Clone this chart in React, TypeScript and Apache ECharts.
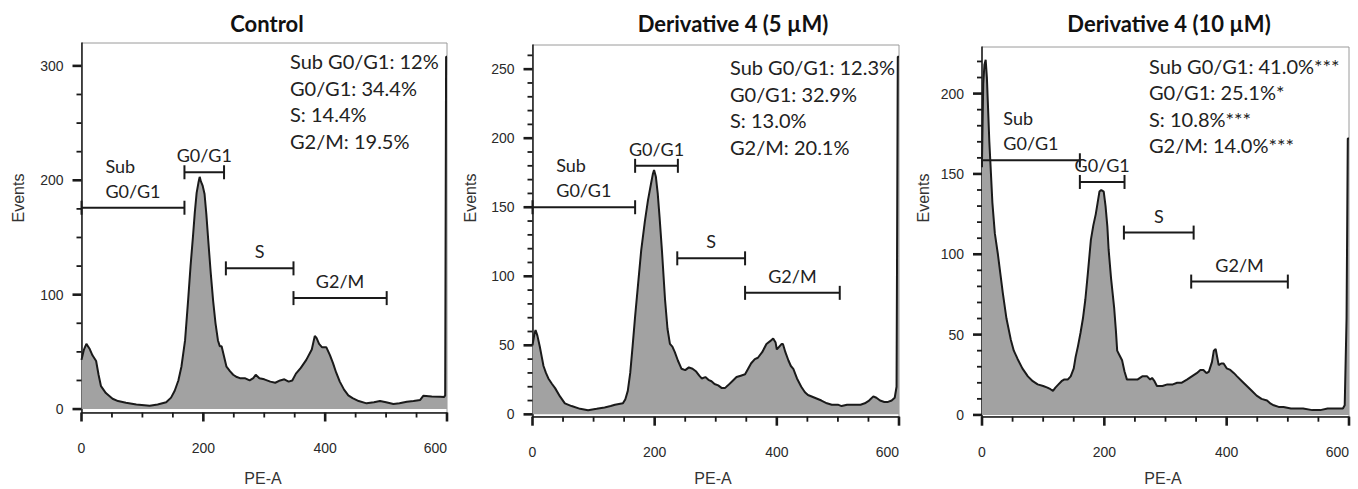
import React, { useEffect, useRef } from "react";
import * as echarts from "echarts";

// ---------------- Data ----------------
const controlX = [0, 4, 8, 13, 18, 24, 28, 32, 40, 51, 60, 73, 90, 112, 125, 139, 147, 153, 159, 164, 170, 175, 179, 183, 186, 189, 192, 194, 196, 199, 202, 205, 208, 212, 216, 220, 224, 227, 230, 234, 238, 244, 249, 255, 260, 268, 276, 282, 286, 292, 300, 310, 318, 326, 333, 340, 346, 352, 360, 369, 378, 383, 386, 390, 395, 402, 408, 413, 418, 424, 431, 438, 445, 455, 468, 480, 490, 500, 512, 522, 534, 545, 556, 561, 575, 589, 595, 597, 598.5, 600];
const controlY = [43, 52, 57, 53, 47, 42, 30, 20, 14, 9, 7, 5.5, 4, 3, 4, 6, 10, 16, 25, 37, 60, 95, 125, 151, 172, 189, 198, 203, 199, 195, 188, 170, 148, 120, 95, 75, 60, 55, 55, 46, 37, 33, 30, 28, 27, 27, 25, 27, 30, 27, 26, 24, 23, 25, 26, 24, 25, 31, 36, 43, 52, 64, 62, 57, 54, 54, 47, 40, 32, 24, 17, 12, 9.6, 7, 5, 6, 7, 6, 4.5, 5, 6.4, 7, 8, 11.6, 11, 10.8, 10.5, 12, 308, 308];

const d5X = [0, 3, 5, 8, 12, 15, 18, 22, 26, 32, 37, 45, 53, 64, 78, 91, 105, 118, 128, 135, 148, 152, 156, 160, 164, 168, 173, 178, 184, 189, 194, 197, 199, 202, 205, 208, 212, 217, 221, 225, 229, 233, 238, 244, 250, 256, 262, 268, 273, 277, 283, 288, 293, 298, 304, 310, 315, 320, 327, 334, 341, 348, 353, 358, 364, 369, 376, 383, 389, 394, 398, 400, 404, 408, 410, 414, 419, 423, 427, 433, 440, 446, 451, 462, 473, 482, 490, 500, 506, 515, 528, 537, 544, 551, 558, 563, 569, 576, 582, 588, 593, 596, 598, 600];
const d5Y = [50, 58, 61, 57, 49, 42, 35, 30, 26, 22, 19, 13, 8, 6, 4, 3, 4, 5, 6, 7, 8, 11, 17, 30, 50, 71, 95, 119, 140, 155, 167, 174, 177, 172, 160, 143, 118, 83, 62, 51, 49, 45, 39, 33, 32, 34, 33, 31, 28, 26, 27, 25, 24, 22, 21, 19, 19, 21, 24, 27, 28, 29, 33, 37, 40, 41, 45, 51, 53, 55, 52, 47, 49, 51, 51, 45, 39, 35, 33, 26, 20, 16, 14, 12, 10, 8, 7, 7, 6, 7, 7, 7, 8, 10, 13, 12, 10, 9, 9, 10, 12, 20, 259, 259];

const d10X = [0, 2, 4, 6, 8, 9.5, 12, 14, 17, 21, 26, 30, 34, 40, 47, 52, 58, 66, 75, 83, 91, 100, 107, 112, 116, 120, 125, 130, 134, 140, 145, 150, 153, 157, 161, 165, 169, 173, 178, 182, 186, 189, 192, 195, 199, 202, 205, 207, 211, 216, 219, 221, 225, 229, 233, 237, 245, 254, 262, 270, 275, 278, 282, 286, 295, 303, 312, 319, 326, 335, 343, 351, 357, 362, 367, 371, 376, 379, 382, 385, 387, 391, 395, 400, 406, 412, 417, 425, 433, 441, 449, 457, 466, 472, 477, 485, 493, 505, 515, 525, 540, 553, 565, 581, 590, 593, 596, 598, 600];
const d10Y = [158, 206, 218, 221, 210, 195, 170, 155, 132, 113, 100, 88, 76, 60, 47, 40, 35, 29, 24, 21, 19, 18, 17, 16, 15, 17, 19, 21, 22, 22, 24, 29, 36, 43, 51, 60, 72, 88, 109, 118, 125, 132, 139, 140, 139, 130, 117, 103, 85, 67, 52, 40, 37, 34, 27, 22, 22, 22, 24, 24, 22, 23, 21, 18, 18, 19, 19, 20, 20, 22, 24, 26, 28, 28, 26, 27, 33, 40, 41, 35, 31, 32, 32, 29, 28, 26, 24, 21, 18, 15, 12, 10, 9, 7, 6, 5, 5, 4, 4, 4, 3, 3, 4, 4, 4, 6, 60, 172, 172];

const xTickLabels = [0, 200, 400, 600];
const controlYTicks = [0, 100, 200, 300];
const d5YTicks = [0, 50, 100, 150, 200, 250];
const d10YTicks = [0, 50, 100, 150, 200];

const gateNames = ["Sub\nG0/G1", "G0/G1", "S", "G2/M"];
// [start, end, height] in data units
const controlGates = [[0, 169, 176], [169, 234, 207], [237, 348, 123], [348, 501, 97]];
const d5Gates = [[0, 168, 150], [168, 238, 180], [237, 348, 113], [348, 503, 88]];
const d10Gates = [[0, 160, 158.5], [160, 233, 145], [232, 346, 113.5], [342, 500, 83]];

const titles = ["Control", "Derivative 4 (5 µM)", "Derivative 4 (10 µM)"];
const controlStats = ["Sub G0/G1: 12%", "G0/G1: 34.4%", "S: 14.4%", "G2/M: 19.5%"];
const d5Stats = ["Sub G0/G1: 12.3%", "G0/G1: 32.9%", "S: 13.0%", "G2/M: 20.1%"];
const d10Stats = ["Sub G0/G1: 41.0%***", "G0/G1: 25.1%*", "S: 10.8%***", "G2/M: 14.0%***"];

// ---------------- Layout ----------------
const panels = [
  { xs: controlX, ys: controlY, yTicks: controlYTicks, gates: controlGates, stats: controlStats,
    left: 81.5, top: 43, width: 365.5, height: 369.5, yMin: -3, yMax: 320, minorStep: 25,
    titleX: 267, statsX: 290, statsY: 61, eventsX: 18, peaX: 263 },
  { xs: d5X, ys: d5Y, yTicks: d5YTicks, gates: d5Gates, stats: d5Stats,
    left: 532.5, top: 45, width: 366.5, height: 371.7, yMin: -1.7, yMax: 267.5, minorStep: 10,
    titleX: 733, statsX: 730, statsY: 67, eventsX: 470, peaX: 713 },
  { xs: d10X, ys: d10Y, yTicks: d10YTicks, gates: d10Gates, stats: d10Stats,
    left: 982, top: 47, width: 367, height: 369.7, yMin: -1.1, yMax: 229, minorStep: 10,
    titleX: 1169, statsX: 1149, statsY: 65.5, eventsX: 923, peaX: 1163 },
];

const INK = "#1a1a1a";
const TICK_FONT = "Liberation Sans";
const TEXT_FONT = "Lato";

let measureCtx: CanvasRenderingContext2D | null = null;
function textWidth(t: string, font: string) {
  if (!measureCtx) measureCtx = document.createElement("canvas").getContext("2d");
  if (!measureCtx) return t.length * 9;
  measureCtx.font = font;
  return measureCtx.measureText(t).width;
}

function buildOption() {
  const grid: any[] = [];
  const xAxis: any[] = [];
  const yAxis: any[] = [];
  const series: any[] = [];
  const graphic: any[] = [];

  panels.forEach((p, i) => {
    grid.push({ left: p.left, top: p.top, width: p.width, height: p.height, show: true, borderColor: "#9a9a9a", borderWidth: 1, backgroundColor: "#ffffff" });

    xAxis.push({
      type: "value", gridIndex: i, min: 0, max: 600, interval: 200,
      axisLine: { show: true, onZero: false, lineStyle: { color: INK, width: 1.5 } },
      axisTick: { show: false },
      splitLine: { show: false },
      axisLabel: { margin: 28, fontSize: 14, fontFamily: TICK_FONT, color: "#2a2a2a", alignMaxLabel: "right", customValues: xTickLabels },
    });
    yAxis.push({
      type: "value", gridIndex: i, position: "left", min: p.yMin, max: p.yMax,
      axisLine: { show: true, onZero: false, lineStyle: { color: INK, width: 1.5 } },
      axisTick: { show: false },
      axisLabel: { customValues: p.yTicks, margin: 18, fontSize: 14, fontFamily: TICK_FONT, color: "#2a2a2a" },
      splitLine: { show: false },
    });

    series.push({
      type: "line", xAxisIndex: i, yAxisIndex: i, silent: true,
      data: p.xs.map((x, k) => [x, p.ys[k]]),
      showSymbol: false, symbol: "none",
      lineStyle: { color: INK, width: 2 },
      areaStyle: { color: "#a2a2a2", opacity: 1, origin: 0 },
      z: 2,
    });

    series.push({
      type: "custom", xAxisIndex: i, yAxisIndex: i, silent: true,
      data: p.gates, encode: { x: [0, 1], y: 2 }, z: 5,
      renderItem: (params: any, api: any) => {
        const idx = params.dataIndex;
        const y = api.value(2);
        const a = api.coord([api.value(0), y]);
        const b = api.coord([api.value(1), y]);
        const cap = 7;
        const ls = { stroke: INK, lineWidth: 2 };
        const lines = gateNames[idx].split("\n");
        const cx = (a[0] + b[0]) / 2;
        const font = `18px ${TEXT_FONT}`;
        const last = lines[lines.length - 1];
        const w = textWidth(last, font);
        const children: any[] = [
          { type: "line", shape: { x1: a[0], y1: a[1], x2: b[0], y2: b[1] }, style: ls },
          { type: "line", shape: { x1: a[0], y1: a[1] - cap, x2: a[0], y2: a[1] + cap }, style: ls },
          { type: "line", shape: { x1: b[0], y1: b[1] - cap, x2: b[0], y2: b[1] + cap }, style: ls },
        ];
        lines.forEach((t, j) => {
          const isLast = j === lines.length - 1;
          children.push({
            type: "text",
            x: isLast ? cx : cx - w / 2,
            y: a[1] - 8 - (lines.length - 1 - j) * 25,
            style: {
              text: t, font, fill: "#222",
              textAlign: isLast ? "center" : "left", align: isLast ? "center" : "left",
              textVerticalAlign: "bottom", verticalAlign: "bottom",
            },
          });
        });
        return { type: "group", children };
      },
    });

    graphic.push({
      type: "text", x: p.titleX, y: 23, silent: true,
      style: { text: titles[i], font: `bold 22px ${TEXT_FONT}`, fill: "#111", textAlign: "center", align: "center", textVerticalAlign: "middle", verticalAlign: "middle" },
    });
    p.stats.forEach((s, k) => {
      graphic.push({
        type: "text", x: p.statsX, y: p.statsY + k * 26.5, silent: true,
        style: { text: s, font: `20px ${TEXT_FONT}`, fill: "#222", textAlign: "left", align: "left", textVerticalAlign: "middle", verticalAlign: "middle" },
      });
    });
    graphic.push({
      type: "text", x: p.eventsX, y: 198, rotation: Math.PI / 2, silent: true,
      style: { text: "Events", font: `16px "${TICK_FONT}"`, fill: "#333", textAlign: "center", align: "center", textVerticalAlign: "middle", verticalAlign: "middle" },
    });
    graphic.push({
      type: "text", x: p.peaX, y: 478, silent: true,
      style: { text: "PE-A", font: `16px "${TICK_FONT}"`, fill: "#333", textAlign: "center", align: "center", textVerticalAlign: "middle", verticalAlign: "middle" },
    });
  });

  return { animation: false, backgroundColor: "#ffffff", grid, xAxis, yAxis, series, graphic };
}

// Tick marks drawn as graphic polylines, positioned through the axes' own scales.
function buildTickGraphics(chart: any) {
  const out: any[] = [];
  panels.forEach((p, i) => {
    const finder = { gridIndex: i };
    for (let v = 0; v <= 600; v += 50) {
      const major = xTickLabels.includes(v);
      const pt = chart.convertToPixel(finder, [v, p.yMin]);
      if (!pt) continue;
      const len = major ? 9 : 5;
      out.push({
        type: "polyline", silent: true, z: 100,
        shape: { points: [[pt[0], pt[1]], [pt[0], pt[1] + len]] },
        style: { stroke: INK, lineWidth: major ? 2.6 : 1.8, fill: null },
      });
    }
    for (let v = 0; v < p.yMax; v += p.minorStep) {
      const major = p.yTicks.includes(v);
      const pt = chart.convertToPixel(finder, [0, v]);
      if (!pt) continue;
      const len = major ? 9 : 5;
      out.push({
        type: "polyline", silent: true, z: 100,
        shape: { points: [[pt[0], pt[1]], [pt[0] - len, pt[1]]] },
        style: { stroke: INK, lineWidth: major ? 2.6 : 1.8, fill: null },
      });
    }
  });
  return out;
}

export default function App() {
  const ref = useRef<HTMLDivElement>(null);
  useEffect(() => {
    if (!ref.current) return;
    const chart = echarts.init(ref.current, undefined, { renderer: "svg" });
    const option: any = buildOption();
    chart.setOption(option);
    const ticks = buildTickGraphics(chart);
    chart.setOption({ graphic: { elements: option.graphic.concat(ticks) } });
    return () => chart.dispose();
  }, []);
  return <div ref={ref} style={{ position: "absolute", left: 0, top: 0, width: 1358, height: 489 }} />;
}
